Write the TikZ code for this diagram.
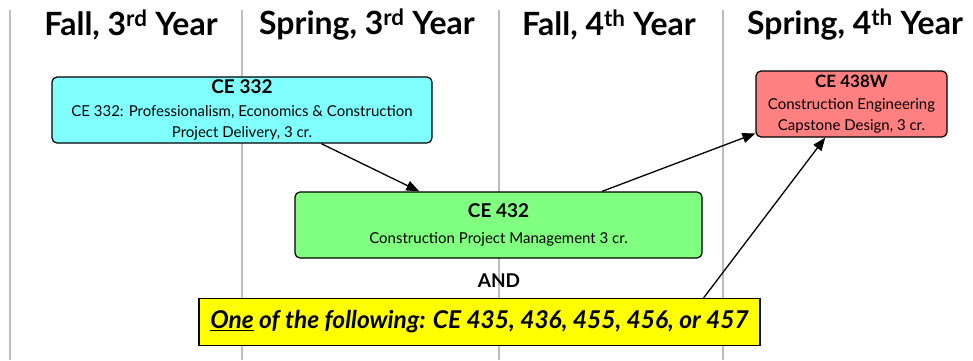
\documentclass[tikz,border=0pt]{standalone}
\usepackage{fontspec}
\setmainfont{Lato}
\usepackage{tikz}
\usetikzlibrary{arrows.meta, positioning, calc}
\definecolor{cscyan}{HTML}{80FFFF}
\definecolor{csgreen}{HTML}{80FF80}
\definecolor{csred}{HTML}{FF8080}
\definecolor{csyellow}{HTML}{FFFF00}
\definecolor{colgray}{HTML}{BDBDBD}

\begin{document}
\begin{tikzpicture}[x=1pt, y=-1pt,
    course/.style={rectangle, rounded corners=5pt, draw=black, line width=1.2pt, fill=#1, align=center, inner sep=0pt, font=\fontsize{15}{21}\selectfont},
    term/.style={font=\fontsize{32}{36}\selectfont\bfseries, inner sep=0pt},
    arrow/.style={-{Triangle[length=13pt, width=10pt]}, line width=1.3pt, color=black}
]
\useasboundingbox (0,0) rectangle (973,360);

% Term columns
\foreach \x in {10,242,499,723}
  \draw[colgray, line width=1.3pt] (\x,10) -- (\x,360);

% Term headers
\node[term] (fall3) at (131,25) {Fall, 3\textsuperscript{rd} Year};
\node[term] (spring3) at (367,25) {Spring, 3\textsuperscript{rd} Year};
\node[term] (fall4) at (609,25) {Fall, 4\textsuperscript{th} Year};
\node[term] (spring4) at (855,25) {Spring, 4\textsuperscript{th} Year};

% Courses
\node[course=cscyan, minimum width=380pt, minimum height=66pt] (c332) at (242,110)
  {{\fontsize{19}{20}\selectfont\bfseries CE 332}\\[2pt]CE 332: Professionalism, Economics \& Construction\\Project Delivery, 3 cr.};
\node[course=csgreen, minimum width=407pt, minimum height=66pt] (c432) at (498.5,225)
  {{\fontsize{19}{20}\selectfont\bfseries CE 432}\\[5pt]Construction Project Management 3 cr.};
\node[course=csred, minimum width=191pt, minimum height=66pt, font=\fontsize{15}{21}\selectfont] (c438) at (851.5,104)
  {{\fontsize{17}{18}\selectfont\bfseries CE 438W}\\[1pt]Construction Engineering\\Capstone Design, 3 cr.};

% Elective choice
\node[font=\fontsize{19}{22}\selectfont\bfseries] (and) at (499,281) {AND};
\node[rectangle, draw=black, line width=1.2pt, fill=csyellow, minimum width=561pt, minimum height=47pt,
  font=\fontsize{24.5}{28}\selectfont\bfseries\itshape] (pick) at (479.5,322)
  {\underline{One} of the following: CE 435, 436, 455, 456, or 457};

% Prerequisite arrows
\draw[arrow] (c332.-23.5) -- (c432.157);
\draw[arrow] (c432.18.5) -- (c438.197);
\draw[arrow] ([xshift=-57pt]pick.north east) -- (c438.232);

\end{tikzpicture}
\end{document}
